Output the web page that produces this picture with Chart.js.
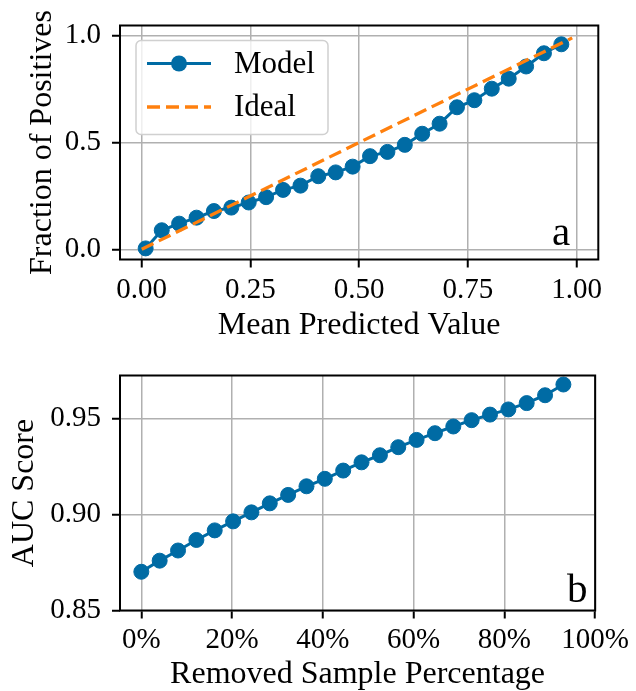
<!DOCTYPE html>
<html>
<head>
<meta charset="utf-8">
<script src="https://cdn.jsdelivr.net/npm/chart.js@4.4.1/dist/chart.umd.min.js"></script>
<style>
  body { margin: 0; background: #fff; }
  .panel { position: absolute; left: 0; width: 636px; }
</style>
</head>
<body>
<div class="panel" style="top:0;height:350px"><canvas id="calib" width="636" height="350"></canvas></div>
<div class="panel" style="top:350px;height:341px"><canvas id="auc" width="636" height="341"></canvas></div>
<script>
// panel a: calibration curve
const meanPredicted = [0.009, 0.046, 0.086, 0.126, 0.166, 0.206, 0.246, 0.286, 0.325, 0.365, 0.406, 0.446, 0.485,
                       0.525, 0.565, 0.605, 0.645, 0.685, 0.725, 0.765, 0.805, 0.844, 0.884, 0.925, 0.965];
const fractionPositives = [0.004, 0.089, 0.120, 0.148, 0.179, 0.195, 0.219, 0.244, 0.278, 0.298, 0.342, 0.360, 0.387,
                           0.436, 0.456, 0.489, 0.541, 0.588, 0.665, 0.698, 0.752, 0.799, 0.856, 0.918, 0.960];
const idealLine = [0, 0.99];
const calibXTicks = [0, 0.25, 0.5, 0.75, 1];
const calibYTicks = [0, 0.5, 1];

// panel b: AUC vs removed samples
const removedPct = [0, 4.04, 8.09, 12.13, 16.17, 20.22, 24.26, 28.3, 32.35, 36.39, 40.43, 44.48,
                    48.52, 52.57, 56.61, 60.65, 64.7, 68.74, 72.78, 76.83, 80.87, 84.91, 88.96, 93];
const aucScores = [0.8702, 0.8760, 0.8813, 0.8868, 0.8918, 0.8965, 0.9012, 0.9059, 0.9103, 0.9148, 0.9187, 0.9230,
                   0.9273, 0.9310, 0.9352, 0.9390, 0.9425, 0.9460, 0.9493, 0.9522, 0.9549, 0.9582, 0.9623, 0.9679];
const aucXTicks = [0, 20, 40, 60, 80, 100];
const aucYTicks = [0.85, 0.90, 0.95];

const BLUE = '#006BA4';
const ORANGE = '#FF800E';
const FONT = "'Liberation Serif', 'DejaVu Serif', serif";

Chart.defaults.font.family = FONT;
Chart.defaults.color = '#000';

const pts = (xs, ys) => xs.map((x, i) => ({x: x, y: ys[i]}));

const axis = (o) => ({
    type: 'linear',
    min: o.min,
    max: o.max,
    afterBuildTicks: s => { s.ticks = o.ticks.map(v => ({value: v})); },
    afterFit: o.fit,
    border: {display: false},
    grid: {color: '#b0b0b0', lineWidth: 1.5, tickColor: '#000', tickWidth: 2, tickLength: 8},
    ticks: {callback: o.fmt, padding: o.pad, autoSkip: false, maxRotation: 0, font: {size: 29, lineHeight: 1}},
    title: {display: true, text: o.title, font: {size: 32, lineHeight: 1}, padding: o.titlePad}
});

// spines all round + panel letter
const frame = {
    id: 'frame',
    afterDatasetsDraw(chart, args, opts) {
        const {ctx, chartArea: a} = chart;
        ctx.save();
        ctx.lineWidth = 2;
        ctx.strokeStyle = '#000';
        ctx.strokeRect(a.left, a.top, a.right - a.left, a.bottom - a.top);
        ctx.fillStyle = '#000';
        ctx.font = '41px ' + FONT;
        ctx.textAlign = 'right';
        ctx.textBaseline = 'alphabetic';
        ctx.fillText(opts.letter, a.right - opts.dx, a.bottom - opts.dy);
        ctx.restore();
    }
};

// matplotlib-like legend inside the axes
const boxLegend = {
    id: 'boxLegend',
    afterDatasetsDraw(chart) {
        const {ctx, chartArea: a} = chart;
        const x0 = a.left + 16, y0 = a.top + 15, w = 192, h = 94;
        ctx.save();
        ctx.beginPath();
        ctx.roundRect(x0, y0, w, h, 5);
        ctx.fillStyle = 'rgba(255,255,255,0.8)';
        ctx.fill();
        ctx.strokeStyle = '#d0d0d0';
        ctx.lineWidth = 1.5;
        ctx.stroke();

        chart.data.datasets.forEach((ds, i) => {
            const y = y0 + 23 + i * 43.5;
            ctx.beginPath();
            ctx.setLineDash(ds.borderDash || []);
            ctx.strokeStyle = ds.borderColor;
            ctx.lineWidth = ds.borderWidth;
            ctx.moveTo(x0 + 11, y);
            ctx.lineTo(x0 + 75, y);
            ctx.stroke();
            ctx.setLineDash([]);
            if (ds.pointRadius > 0) {
                ctx.beginPath();
                ctx.arc(x0 + 43, y, 8, 0, Math.PI * 2);
                ctx.fillStyle = ds.pointBackgroundColor;
                ctx.fill();
            }
            ctx.fillStyle = '#000';
            ctx.font = '31px ' + FONT;
            ctx.textBaseline = 'middle';
            ctx.fillText(ds.label, x0 + 98, y + 1);
        });
        ctx.restore();
    }
};

new Chart(document.getElementById('calib'), {
    type: 'line',
    data: {
        datasets: [
            {
                label: 'Model',
                data: pts(meanPredicted, fractionPositives),
                order: 1,
                borderColor: BLUE,
                borderWidth: 3,
                pointRadius: 7.5,
                pointBorderWidth: 1,
                pointBackgroundColor: BLUE,
                pointBorderColor: BLUE
            },
            {
                label: 'Ideal',
                data: pts(idealLine, idealLine),
                order: 0,
                borderColor: ORANGE,
                borderWidth: 3.3,
                borderDash: [13, 6],
                pointRadius: 0
            }
        ]
    },
    options: {
        responsive: false,
        animation: false,
        devicePixelRatio: 1,
        layout: {padding: {left: 0, right: 37.7, top: 24, bottom: 0}},
        plugins: {
            legend: {display: false},
            tooltip: {enabled: false},
            frame: {letter: 'a', dx: 28, dy: 14.5}
        },
        scales: {
            x: axis({min: -0.05, max: 1.05, ticks: calibXTicks, fmt: v => v.toFixed(2), pad: 8,
                     title: 'Mean Predicted Value', titlePad: {top: 0, bottom: 8.5},
                     fit: s => { s.height = 90.5; }}),
            y: axis({min: -0.048, max: 1.048, ticks: calibYTicks, fmt: v => v.toFixed(1), pad: 11,
                     title: 'Fraction of Positives', titlePad: {top: 27, bottom: 0},
                     fit: s => { s.width = 120; }})
        }
    },
    plugins: [frame, boxLegend]
});

new Chart(document.getElementById('auc'), {
    type: 'line',
    data: {
        datasets: [
            {
                label: 'AUC',
                data: pts(removedPct, aucScores),
                borderColor: BLUE,
                borderWidth: 3,
                pointRadius: 7.5,
                pointBorderWidth: 1,
                pointBackgroundColor: BLUE,
                pointBorderColor: BLUE
            }
        ]
    },
    options: {
        responsive: false,
        animation: false,
        devicePixelRatio: 1,
        layout: {padding: {left: 0, right: 37.7, top: 25, bottom: 0}},
        plugins: {
            legend: {display: false},
            tooltip: {enabled: false},
            frame: {letter: 'b', dx: 7.6, dy: 8.5}
        },
        scales: {
            x: axis({min: -4.7, max: 100, ticks: aucXTicks, fmt: v => v + '%', pad: 7,
                     title: 'Removed Sample Percentage', titlePad: {top: 0, bottom: 0},
                     fit: s => { s.height = 80.5; }}),
            y: axis({min: 0.85, max: 0.9726, ticks: aucYTicks, fmt: v => v.toFixed(2), pad: 11,
                     title: 'AUC Score', titlePad: {top: 9, bottom: 0},
                     fit: s => { s.width = 120; }})
        }
    },
    plugins: [frame]
});
</script>
</body>
</html>
